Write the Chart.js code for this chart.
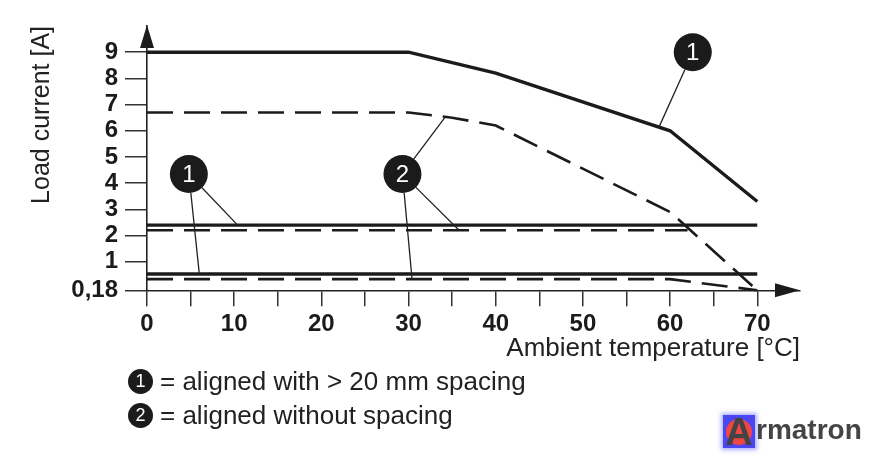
<!DOCTYPE html>
<html>
<head>
<meta charset="utf-8">
<title>Derating curve</title>
<script src="https://cdn.jsdelivr.net/npm/chart.js@4.4.1/dist/chart.umd.min.js"></script>
<style>
  html, body { margin: 0; padding: 0; background: #fff; }
  #wrap { position: relative; width: 872px; height: 463px; overflow: hidden; }
  #chart { position: absolute; left: 0; top: 0; }
  .key { position: absolute; left: 160px; font: 26px "Liberation Sans", Arial, sans-serif; line-height: 30px; color: #222; white-space: nowrap; }
  .badge { position: absolute; width: 25px; height: 25px; border-radius: 50%; background: #1b1b1b; color: #fff;
           font: 18px "Liberation Sans", Arial, sans-serif; line-height: 25px; text-align: center; }
  .logo { position: absolute; left: 723px; top: 415px; width: 32px; height: 33px; background: #4a47f2;
          box-shadow: 0 0 4px 2px rgba(110, 110, 255, 0.55); overflow: hidden; }
  .logo .dot { position: absolute; left: 3px; top: 4px; width: 26px; height: 26px; border-radius: 50%; background: #f04545; }
  .logo .letter { position: absolute; left: 0; top: -3px; width: 32px; text-align: center;
                  font: bold 38px "Liberation Sans", Arial, sans-serif; line-height: 40px; color: #444; }
  .brand { position: absolute; left: 756px; top: 413px; font: bold 28px "Liberation Sans", Arial, sans-serif;
           line-height: 34px; color: #444; }
</style>
</head>
<body>
<div id="wrap">
  <canvas id="chart"></canvas>
  <div class="badge" style="left:128px; top:369px;">1</div>
  <div class="key" style="top:366px;">= aligned with &gt; 20 mm spacing</div>
  <div class="badge" style="left:128px; top:403px;">2</div>
  <div class="key" style="top:400px;">= aligned without spacing</div>
  <div class="logo"><div class="dot"></div><div class="letter">A</div></div>
  <div class="brand">rmatron</div>
</div>
<script>
// Curve 1 / 2 = aligned with > 20 mm spacing / without spacing
const tempCurve1 = [0, 30, 40, 60, 70];
const loadCurve1 = [9, 9, 8.2, 6.0, 3.3];
const tempCurve2 = [0, 30, 35, 40, 60, 70];
const loadCurve2 = [6.7, 6.7, 6.5, 6.2, 2.9, 0.18];

// middle pair of flat lines
const tempMid1 = [0, 70];
const loadMid1 = [2.4, 2.4];
const tempMid2 = [0, 62];
const loadMid2 = [2.2, 2.2];

// lowest pair
const tempLow1 = [0, 70];
const loadLow1 = [0.65, 0.65];
const tempLow2 = [0, 60, 70];
const loadLow2 = [0.5, 0.5, 0.18];

// axis ticks
const xTicks = [0, 5, 10, 15, 20, 25, 30, 35, 40, 45, 50, 55, 60, 65, 70];
const yTicks = [0.18, 1, 2, 3, 4, 5, 6, 7, 8, 9];

// numbered markers: label, where the circle sits, what its leaders point at (in data units)
const callouts = [
    { label: '1', at: [62.6, 9.0], to: [[58.7, 6.12]] },
    { label: '2', at: [29.3, 4.35], to: [[34.2, 6.52], [35.8, 2.2], [30.4, 0.5]] },
    { label: '1', at: [4.8, 4.35], to: [[10.4, 2.4], [6.0, 0.65]] }
];

// the drawing gives the step 0,18 .. 1 A a bit more room than the other 1 A steps
function warp(v) {
    return v >= 1 ? v : 1 - (1 - v) * (1.09 / 0.82);
}
function unwarp(w) {
    return w >= 1 ? w : 1 - (1 - w) * (0.82 / 1.09);
}

class StretchedScale extends Chart.LinearScale {
    getPixelForValue(value) {
        return super.getPixelForValue(value === null || value === undefined ? value : warp(value));
    }
    getValueForPixel(pixel) {
        return unwarp(super.getValueForPixel(pixel));
    }
}
StretchedScale.id = 'stretched';
Chart.register(StretchedScale);

function lineSet(xs, ys, dashed) {
    return {
        data: xs.map((x, i) => ({ x: x, y: ys[i] })),
        borderColor: '#1b1b1b',
        borderWidth: dashed ? 2.6 : 3.4,
        borderDash: dashed ? [26, 11] : [],
        pointRadius: 0,
        tension: 0,
        fill: false,
        clip: false
    };
}

// Arrow heads on both axes plus the numbered callouts
const decorations = {
    id: 'decorations',
    afterDatasetsDraw(chart) {
        const { ctx, chartArea, scales } = chart;
        ctx.save();
        ctx.fillStyle = '#1b1b1b';

        // y arrow
        ctx.beginPath();
        ctx.moveTo(chartArea.left, chartArea.top - 1);
        ctx.lineTo(chartArea.left - 7, chartArea.top + 22);
        ctx.lineTo(chartArea.left + 7, chartArea.top + 22);
        ctx.closePath();
        ctx.fill();

        // x arrow
        ctx.beginPath();
        ctx.moveTo(chartArea.right, chartArea.bottom);
        ctx.lineTo(chartArea.right - 25, chartArea.bottom - 7);
        ctx.lineTo(chartArea.right - 25, chartArea.bottom + 7);
        ctx.closePath();
        ctx.fill();

        const r = 19;
        callouts.forEach(c => {
            const cx = scales.x.getPixelForValue(c.at[0]);
            const cy = scales.y.getPixelForValue(c.at[1]);

            ctx.strokeStyle = '#222';
            ctx.lineWidth = 1.3;
            c.to.forEach(p => {
                const tx = scales.x.getPixelForValue(p[0]);
                const ty = scales.y.getPixelForValue(p[1]);
                const len = Math.hypot(tx - cx, ty - cy);
                ctx.beginPath();
                ctx.moveTo(cx + (tx - cx) / len * r, cy + (ty - cy) / len * r);
                ctx.lineTo(tx, ty);
                ctx.stroke();
            });

            ctx.beginPath();
            ctx.arc(cx, cy, r, 0, Math.PI * 2);
            ctx.fillStyle = '#1b1b1b';
            ctx.fill();

            ctx.fillStyle = '#fff';
            ctx.font = '24px "Liberation Sans", Arial, sans-serif';
            ctx.textAlign = 'center';
            ctx.textBaseline = 'middle';
            ctx.fillText(c.label, cx, cy + 1);
        });
        ctx.restore();
    }
};

Chart.defaults.font.family = '"Liberation Sans", Arial, sans-serif';
Chart.defaults.color = '#1b1b1b';

window.addEventListener('load', function () {
    const ctx = document.getElementById('chart').getContext('2d');
    window.deratingChart = new Chart(ctx, {
        type: 'line',
        data: {
            datasets: [
                lineSet(tempCurve1, loadCurve1, false),
                lineSet(tempCurve2, loadCurve2, true),
                lineSet(tempMid1, loadMid1, false),
                lineSet(tempMid2, loadMid2, true),
                lineSet(tempLow1, loadLow1, false),
                lineSet(tempLow2, loadLow2, true)
            ]
        },
        options: {
            responsive: true,
            maintainAspectRatio: false,
            animation: false,
            layout: { padding: { left: 0, top: 26, right: 72, bottom: 99 } },
            plugins: {
                legend: { display: false },
                tooltip: { enabled: false }
            },
            scales: {
                x: {
                    type: 'linear',
                    min: 0,
                    max: 74.9,
                    afterBuildTicks: scale => { scale.ticks = xTicks.map(v => ({ value: v })); },
                    afterFit: scale => { scale.height = 73.7; },
                    ticks: {
                        autoSkip: false,
                        maxRotation: 0,
                        padding: 4,
                        color: '#1b1b1b',
                        font: { size: 24, weight: 'bold' },
                        callback: v => (v % 10 === 0 ? String(v) : '')
                    },
                    grid: { drawOnChartArea: false, tickLength: 16, color: '#333', lineWidth: 1.5 },
                    border: { display: true, color: '#222', width: 1.6 },
                    title: {
                        display: true,
                        text: 'Ambient temperature [°C]',
                        align: 'end',
                        color: '#222',
                        font: { size: 26 },
                        padding: { top: 0, bottom: 0 }
                    }
                },
                y: {
                    type: 'stretched',
                    min: warp(0.18),
                    max: 10,
                    afterBuildTicks: scale => { scale.ticks = yTicks.map(v => ({ value: v })); },
                    afterFit: scale => { scale.width = 147; },
                    ticks: {
                        autoSkip: false,
                        padding: 7,
                        color: '#1b1b1b',
                        font: { size: 24, weight: 'bold' },
                        callback: v => (v === 0.18 ? '0,18' : String(v))
                    },
                    grid: { drawOnChartArea: false, tickLength: 22, color: '#333', lineWidth: 1.5 },
                    border: { display: true, color: '#222', width: 1.6 },
                    title: {
                        display: true,
                        text: 'Load current [A]',
                        align: 'end',
                        color: '#222',
                        font: { size: 25 },
                        padding: { top: 27, bottom: 0 }
                    }
                }
            }
        },
        plugins: [decorations]
    });
});
</script>
</body>
</html>
